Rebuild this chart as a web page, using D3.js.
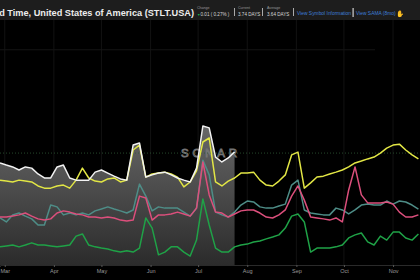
<!DOCTYPE html>
<html>
<head>
<meta charset="utf-8">
<script src="https://cdn.jsdelivr.net/npm/d3@7"></script>
<style>
	body { margin: 0; background: #000; overflow: hidden; }
	svg { display: block; font-family: Helvetica, Arial, "Liberation Sans", sans-serif; }
</style>
</head>
<body>
<div id="chart"></div>
<script>
////////////////////////////////////////////////////////////
//////////////////////// Data //////////////////////////////
////////////////////////////////////////////////////////////

//One reading every 4 days, starting Feb 26
var startDate = new Date(2022, 1, 26),
	endDate = new Date(2022, 10, 18),
	stepDays = 4;

var monthTicks = ["2022-03-01","2022-04-01","2022-05-01","2022-06-01","2022-07-01","2022-08-01","2022-09-01","2022-10-01","2022-11-01"];
var monthLabels = ["Mar","Apr","May","Jun","Jul","Aug","Sep","Oct","Nov"];

//Main symbol (STLT.USA), stops late July
var stlt = [3.32,3.25,3.19,3.09,3.19,3.15,2.96,2.83,2.83,3.19,
	3.25,2.83,2.76,2.76,2.76,3.02,3.09,2.99,2.89,2.80,
	2.76,3.90,3.97,2.86,2.93,2.99,3.02,2.93,2.83,2.76,
	2.70,3.15,4.52,4.46,3.51,3.35,3.48,3.68];

var yellow = [2.76,2.73,2.70,2.76,2.73,2.70,2.57,2.50,2.50,2.57,
	2.60,2.50,2.76,3.15,2.83,2.73,2.70,2.80,2.83,2.70,
	2.76,3.74,3.90,2.86,2.96,2.99,3.02,2.96,2.86,2.54,
	2.70,3.06,4.00,4.13,2.70,2.57,2.73,2.83,2.99,2.99,
	3.02,2.76,2.60,2.57,2.73,2.93,3.58,3.67,2.50,2.67,
	2.86,2.89,2.96,3.02,3.09,3.19,3.32,3.38,3.45,3.51,
	3.64,3.80,3.90,3.93,3.74,3.58,3.45];

var pink = [1.56,1.56,1.59,1.63,1.69,1.59,1.50,1.46,1.50,1.69,
	1.76,1.72,1.66,1.63,1.56,1.56,1.53,1.56,1.53,1.46,
	1.43,1.46,2.24,2.18,1.46,1.63,1.63,1.66,1.72,1.66,
	1.59,1.85,3.35,2.28,1.72,1.69,1.56,1.66,1.76,1.79,
	1.79,1.69,1.56,1.53,1.63,1.79,2.24,2.57,2.11,1.56,
	1.53,1.50,1.46,1.53,1.40,2.44,3.19,2.28,2.02,2.02,
	2.02,2.05,1.98,1.72,1.56,1.56,1.63];

var teal = [1.53,1.40,1.63,1.69,1.59,1.50,1.30,1.30,1.95,1.89,
	1.63,1.69,1.63,1.69,1.63,1.76,1.82,1.89,1.82,1.76,
	1.69,1.79,2.63,2.24,1.76,1.89,1.85,1.85,1.85,1.72,
	1.59,1.85,3.41,2.93,1.72,1.63,1.56,1.72,1.95,2.08,
	2.05,1.89,1.85,1.85,1.92,1.98,2.60,2.76,1.79,1.69,
	1.66,1.63,1.63,1.85,1.79,1.66,1.79,1.95,1.98,1.95,
	1.95,2.08,1.98,2.08,2.05,1.95,1.82];

var green = [0.59,0.62,0.65,0.59,0.65,0.72,0.65,0.65,0.62,0.59,
	0.62,0.65,0.94,1.01,0.65,0.59,0.55,0.52,0.46,0.42,
	0.46,0.42,0.55,1.53,1.20,0.33,0.42,0.59,0.59,0.42,
	0.29,0.81,2.15,1.30,0.55,0.42,0.42,0.59,0.65,0.68,
	0.75,0.78,0.85,0.91,0.98,1.20,1.59,1.66,1.40,0.42,
	0.55,0.55,0.55,0.59,0.65,0.88,0.98,1.04,0.75,0.65,
	0.94,0.81,1.07,1.07,0.88,0.81,1.01];

var average = 3.64;

var series = [
	{name: "teal", values: teal, color: "#4e8d87"},
	{name: "pink", values: pink, color: "#dc4f7c"},
	{name: "green", values: green, color: "#1fa247"},
	{name: "yellow", values: yellow, color: "#e2e645"},
	{name: "stlt", values: stlt, color: "#f2f2f2"}
];

////////////////////////////////////////////////////////////
//////////////////////// Setup /////////////////////////////
////////////////////////////////////////////////////////////

var width = 420,
	height = 280,
	headerHeight = 20,
	chartBottom = 265;

var svg = d3.select("#chart").append("svg")
	.attr("width", width)
	.attr("height", height);

var x = d3.scaleTime()
	.domain([startDate, endDate])
	.range([0, width]);

var y = d3.scaleLinear()
	.domain([0, 8])
	.range([chartBottom, 19]);

var dateAt = function(i) { return d3.timeDay.offset(startDate, i * stepDays); };

var line = d3.line()
	.x(function(d,i) { return x(dateAt(i)); })
	.y(function(d) { return y(d); });

var area = d3.area()
	.x(function(d,i) { return x(dateAt(i)); })
	.y0(chartBottom)
	.y1(function(d) { return y(d); });

//Gradient under the main symbol
var defs = svg.append("defs");
var grad = defs.append("linearGradient")
	.attr("id", "area-gradient")
	.attr("gradientUnits", "userSpaceOnUse")
	.attr("x1", 0).attr("y1", y(4.6))
	.attr("x2", 0).attr("y2", chartBottom);
grad.append("stop").attr("offset", "0%").attr("stop-color", "#686868");
grad.append("stop").attr("offset", "100%").attr("stop-color", "#2b2b2b");

////////////////////////////////////////////////////////////
//////////////////////// Grid //////////////////////////////
////////////////////////////////////////////////////////////

var tickDates = monthTicks.map(function(d) { return d3.timeParse("%Y-%m-%d")(d); });

svg.append("g")
	.selectAll("line")
	.data(tickDates)
	.enter().append("line")
	.attr("x1", function(d) { return x(d); })
	.attr("x2", function(d) { return x(d); })
	.attr("y1", headerHeight)
	.attr("y2", chartBottom)
	.style("stroke", "#121212")
	.style("stroke-width", 1);

svg.append("line")
	.attr("x1", 0).attr("x2", 375)
	.attr("y1", y(7)).attr("y2", y(7))
	.style("stroke", "#141414");

//Area under the main symbol
svg.append("path")
	.datum(stlt)
	.attr("d", area)
	.style("fill", "url(#area-gradient)");

//Watermark
svg.append("text")
	.attr("x", 211)
	.attr("y", 157)
	.attr("text-anchor", "middle")
	.style("font-size", "11.5px")
	.style("font-weight", 300)
	.style("letter-spacing", "3.8px")
	.style("fill", "none")
	.style("stroke", "#747474")
	.style("stroke-width", 0.9)
	.text("SONAR");

//Average line
svg.append("line")
	.attr("x1", 0).attr("x2", width)
	.attr("y1", y(average)).attr("y2", y(average))
	.style("stroke", "#2e5a36")
	.style("stroke-width", 0.8)
	.style("stroke-dasharray", "1,2");

////////////////////////////////////////////////////////////
//////////////////////// Lines /////////////////////////////
////////////////////////////////////////////////////////////

svg.append("g")
	.selectAll("path")
	.data(series)
	.enter().append("path")
	.attr("d", function(d) { return line(d.values); })
	.style("fill", "none")
	.style("stroke", function(d) { return d.color; })
	.style("stroke-width", 1.5)
	.style("stroke-linejoin", "round");

////////////////////////////////////////////////////////////
//////////////////////// Axis //////////////////////////////
////////////////////////////////////////////////////////////

var xAxis = svg.append("g")
	.attr("transform", "translate(0," + chartBottom + ")")
	.call(d3.axisBottom(x)
		.tickValues(tickDates)
		.tickSize(2)
		.tickPadding(2)
		.tickFormat(function(d,i) { return monthLabels[i]; }));

xAxis.select(".domain").style("stroke", "#2a2a2a");
xAxis.selectAll(".tick line").style("stroke", "#555");
xAxis.selectAll(".tick text")
	.style("fill", "#9a9a9a")
	.style("font-size", "5.5px")
	.style("font-family", "Helvetica, Arial, 'Liberation Sans', sans-serif");

////////////////////////////////////////////////////////////
//////////////////////// Header ////////////////////////////
////////////////////////////////////////////////////////////

svg.append("rect")
	.attr("width", width)
	.attr("height", headerHeight)
	.style("fill", "#1d1d1d");

//Title runs off the left edge, as in the original screenshot
svg.append("text")
	.attr("x", 194)
	.attr("y", 15.5)
	.attr("text-anchor", "end")
	.style("font-size", "9.2px")
	.style("font-weight", "bold")
	.style("fill", "#ececec")
	.text("Lead Time, United States of America (STLT.USA)");

var stats = [
	{label: "Change", value: "0.01 ( 0.27% )", x: 197},
	{label: "Current", value: "3.74 DAYS", x: 238},
	{label: "Average", value: "3.64 DAYS", x: 267}
];

var stat = svg.append("g").selectAll("g")
	.data(stats)
	.enter().append("g")
	.attr("transform", function(d) { return "translate(" + d.x + ",0)"; });

stat.append("text")
	.attr("y", 9)
	.style("font-size", "3.6px")
	.style("fill", "#9a9a9a")
	.text(function(d) { return d.label; });

stat.append("text")
	.attr("x", function(d,i) { return i === 0 ? 3.5 : 0; })
	.attr("y", 15.5)
	.style("font-size", "4.6px")
	.style("fill", "#d6d6d6")
	.text(function(d) { return d.value; });

svg.append("text")
	.attr("x", 197)
	.attr("y", 15.5)
	.style("font-size", "3.5px")
	.style("fill", "#19b34a")
	.text("▼");

var seps = [234, 262, 293];
svg.append("g").selectAll("rect")
	.data(seps)
	.enter().append("rect")
	.attr("x", function(d) { return d; })
	.attr("y", 8)
	.attr("width", 0.8)
	.attr("height", 8)
	.style("fill", "#cfcfcf");

svg.append("text")
	.attr("x", 297)
	.attr("y", 14.5)
	.style("font-size", "4.9px")
	.style("fill", "#3d7fd8")
	.text("View Symbol Information");

svg.append("rect")
	.attr("x", 352.5).attr("y", 8)
	.attr("width", 1.2).attr("height", 9)
	.style("fill", "#d0d0d0");

svg.append("text")
	.attr("x", 356)
	.attr("y", 14.5)
	.style("font-size", "4.9px")
	.style("fill", "#3d7fd8")
	.text("View SAMA (8mo)");

svg.append("text")
	.attr("x", 396)
	.attr("y", 15.5)
	.style("font-size", "6.5px")
	.style("fill", "#e0b21c")
	.text("✋");
</script>
</body>
</html>
